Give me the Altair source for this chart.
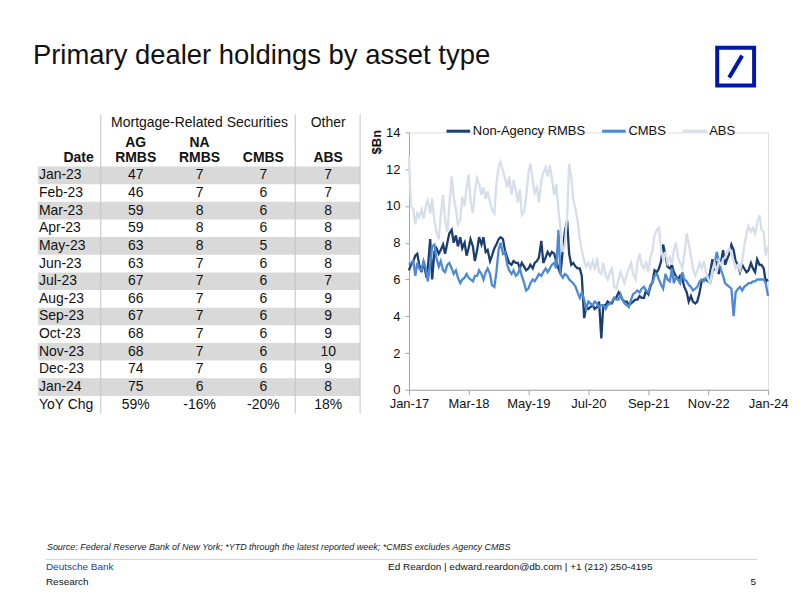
import altair as alt
import pandas as pd

FONT = "Liberation Sans"

# ---------------- text ----------------
TITLE = "Primary dealer holdings by asset type"
SOURCE = ("Source: Federal Reserve Bank of New York; *YTD through the latest reported week; "
          "*CMBS excludes Agency CMBS")
FOOT_BANK = "Deutsche Bank"
FOOT_RESEARCH = "Research"
FOOT_CONTACT = "Ed Reardon | edward.reardon@db.com | +1 (212) 250-4195"
PAGE_NO = "5"

# ---------------- table data ----------------
months = ["Jan-23", "Feb-23", "Mar-23", "Apr-23", "May-23", "Jun-23", "Jul-23",
          "Aug-23", "Sep-23", "Oct-23", "Nov-23", "Dec-23", "Jan-24"]
ag_rmbs = [47, 46, 59, 59, 63, 63, 67, 66, 67, 68, 68, 74, 75]
na_rmbs = [7, 7, 8, 8, 8, 7, 7, 7, 7, 7, 7, 7, 6]
cmbs_tbl = [7, 6, 6, 6, 5, 6, 6, 6, 6, 6, 6, 6, 6]
abs_tbl = [7, 7, 8, 8, 8, 8, 7, 9, 9, 9, 10, 9, 8]
yoy_label = "YoY Chg"
yoy = ["59%", "-16%", "-20%", "18%"]
group_headers = ["Mortgage-Related Securities", "Other"]
sub_headers_top = ["AG", "NA"]
sub_headers = ["Date", "RMBS", "RMBS", "CMBS", "ABS"]

# ---------------- line chart data (semi-monthly readings) ----------------
SERIES = ["Non-Agency RMBS", "CMBS", "ABS"]
COLORS = ["#1b3d70", "#4d8ad3", "#d5deea"]

na_line = [
    6.5, 6.8, 7.0, 7.3, 7.4, 6.8, 6.4, 7.0, 6.3, 6.6, 8.2, 6.0,
    7.5, 7.7, 7.4, 7.6, 7.9, 7.4, 8.0, 8.5, 8.7, 8.0, 8.4, 7.8,
    8.3, 7.7, 8.0, 7.3, 7.7, 8.2, 7.8, 7.0, 7.6, 8.3, 7.9, 8.3,
    7.5, 7.6, 7.0, 7.3, 7.7, 7.9, 8.2, 8.3, 8.2, 7.6, 7.2, 6.9,
    6.8, 7.0, 6.9, 6.9, 6.6, 6.9, 6.7, 6.5, 6.6, 6.8, 6.6, 6.9,
    7.0, 7.2, 8.1, 6.9, 7.2, 7.5, 7.3, 7.5, 7.4, 7.0, 6.6, 6.3,
    7.6, 8.6, 9.2, 7.4, 6.8, 6.9, 6.7, 6.6, 6.6, 6.2, 3.9, 4.5,
    4.4, 4.5, 4.6, 4.4, 4.5, 4.8, 2.8, 4.6, 4.6, 4.8, 4.7, 4.7,
    5.0, 5.0, 5.3, 5.1, 4.9, 4.8, 4.8, 4.6, 4.7, 4.8, 4.9, 4.9,
    5.1, 5.0, 5.0, 5.4, 5.2, 5.6, 5.9, 6.5, 6.4, 6.6, 7.0, 7.9,
    7.3, 6.7, 6.6, 6.8, 6.4, 6.2, 6.0, 6.2, 6.0, 5.6, 5.3, 4.8,
    5.1, 4.8, 4.7, 4.8, 5.3, 5.9, 6.0, 6.0, 5.9, 6.4, 7.1, 6.5,
    7.0, 6.3, 7.0, 7.6, 6.8, 7.1, 7.4, 7.9, 7.6, 7.0, 6.8, 6.4,
    6.8, 6.6, 6.4, 6.5, 6.9, 6.6, 6.4, 7.1, 6.8, 6.8, 6.6, 5.9,
    6.0,
]
cmbs_line = [
    6.8, 6.9, 7.0, 6.2, 6.9, 6.6, 6.5, 7.0, 6.6, 5.9, 6.8, 7.8,
    7.9, 7.2, 6.7, 7.0, 6.5, 6.4, 6.8, 6.9, 6.6, 6.3, 6.5, 6.1,
    5.8, 6.0, 6.1, 6.3, 6.1, 6.0, 5.9, 6.2, 6.2, 6.5, 6.3, 6.0,
    6.4, 6.6, 6.3, 5.7, 5.6, 6.4, 7.6, 8.0, 7.4, 7.5, 6.8, 6.5,
    6.3, 6.5, 6.2, 6.3, 6.6, 6.2, 5.8, 5.4, 5.5, 5.8, 6.0, 5.9,
    6.1, 6.3, 6.2, 6.4, 6.6, 6.4, 6.6, 6.8, 6.9, 6.6, 8.7, 6.3,
    6.1, 6.3, 6.2, 6.0, 5.9, 5.8, 5.6, 5.3, 5.0, 5.3, 4.9, 4.4,
    4.8, 4.7, 4.6, 4.8, 4.7, 4.5, 4.6, 4.6, 4.4, 4.6, 4.7, 4.8,
    5.0, 4.9, 4.9, 5.2, 4.9, 4.7, 4.6, 4.5, 4.9, 5.2, 5.3, 5.4,
    5.3, 5.5, 5.6, 5.4, 5.3, 5.7, 5.8, 6.2, 6.3, 6.0, 5.7, 5.5,
    6.3, 6.0, 5.9, 6.6, 5.8, 6.1, 6.0, 5.8, 6.4, 6.0, 5.9, 5.7,
    5.6, 5.4, 5.5, 5.6, 5.9, 6.0, 5.9, 6.1, 6.2, 5.8, 6.4, 6.8,
    7.5, 7.0, 6.5, 6.2, 5.8, 5.7, 5.6, 5.5, 4.0, 5.3, 5.5, 5.6,
    5.4, 5.6, 5.7, 5.8, 5.8, 5.9, 5.9, 6.0, 6.0, 6.0, 6.0, 5.8,
    5.1,
]
abs_line = [
    12.7, 10.0, 9.8, 9.0, 9.6, 9.4, 9.8, 9.3, 10.0, 10.3, 9.6, 10.4,
    9.2, 8.6, 8.2, 9.5, 10.6, 9.2, 8.6, 10.0, 11.6, 10.5, 9.8, 9.0,
    9.2, 10.5, 10.0, 11.0, 11.7, 10.3, 9.6, 10.8, 11.5, 11.2, 10.6, 11.0,
    10.4, 10.8, 10.2, 9.8, 9.6, 11.2, 12.1, 12.4, 11.9, 11.5, 11.0, 11.6,
    10.6, 11.4, 10.8, 10.2, 10.9, 9.5, 9.7, 10.5, 11.8, 12.3, 11.4, 10.7,
    11.0, 10.2, 11.4, 11.8, 12.1, 11.6, 12.2, 11.5, 10.6, 11.2, 9.8, 8.8,
    7.5, 7.8, 9.5, 12.3, 11.6, 10.4, 9.8, 9.2, 8.2, 7.6, 7.0, 6.7,
    6.9, 6.6, 7.0, 6.5, 7.2, 6.4, 6.3, 6.9, 6.2, 6.0, 6.4, 6.6,
    5.6, 5.5, 6.0, 6.4, 6.1, 5.8, 6.3, 6.6, 6.9, 6.3, 6.0, 6.9,
    7.4, 6.8, 6.6, 7.0, 6.4, 7.2, 7.6, 8.4, 8.7, 8.8, 7.6, 7.1,
    7.5, 6.9, 7.2, 6.8, 7.6, 8.0, 7.2, 6.9, 6.6, 7.4, 8.5, 7.9,
    7.3, 6.6, 6.2, 6.5, 6.9, 6.6, 7.0, 6.4, 6.0, 5.8, 6.5, 6.9,
    6.4, 7.0, 6.8, 7.1, 7.2, 7.5, 7.7, 7.4, 7.0, 6.6, 6.8, 6.5,
    7.0, 7.8, 8.5, 8.9, 8.6, 8.8, 8.5, 9.1, 9.5, 8.7, 8.6, 7.3,
    7.8,
]
x_tick_dates = [(2017, 1), (2018, 3), (2019, 5), (2020, 7), (2021, 9), (2022, 11), (2024, 1)]
y_ticks = [0, 2, 4, 6, 8, 10, 12, 14]

# All positions in the left panel are relative to the table/plot row origin
# (page x=8, y=131).

one = pd.DataFrame({"t": [TITLE]})
one_row = pd.DataFrame({"k": [0]})

# ================= slide background (defines overall bounds) =================
bg = alt.Chart(one_row).mark_rect(fill="white").encode(
    x=alt.value(0), x2=alt.value(786), y=alt.value(-123), y2=alt.value(464))

# ================= title + logo =================
title_mark = alt.Chart(one).mark_text(
    align="left", baseline="alphabetic", font=FONT, fontSize=27.5, color="#111"
).encode(x=alt.value(24), y=alt.value(-69), text="t:N")
logo_box = alt.Chart(one_row).mark_rect(fill="white", stroke="#0018a8", strokeWidth=4).encode(
    x=alt.value(710), x2=alt.value(747), y=alt.value(-85), y2=alt.value(-47))
logo_slash = alt.Chart(one_row).mark_rule(stroke="#0018a8", strokeWidth=4).encode(
    x=alt.value(735), y=alt.value(-77), x2=alt.value(722), y2=alt.value(-55))

# ================= table =================
cells = []
for i, m in enumerate(months):
    cells.append({"row": i, "col": 0, "text": m})
    cells.append({"row": i, "col": 1, "text": str(ag_rmbs[i])})
    cells.append({"row": i, "col": 2, "text": str(na_rmbs[i])})
    cells.append({"row": i, "col": 3, "text": str(cmbs_tbl[i])})
    cells.append({"row": i, "col": 4, "text": str(abs_tbl[i])})
n = len(months)
cells.append({"row": n, "col": 0, "text": yoy_label})
for j, v in enumerate(yoy):
    cells.append({"row": n, "col": j + 1, "text": v})
cells_df = pd.DataFrame(cells)

xs = alt.Scale(domain=[0, 1, 2, 3, 4], range=[30, 127, 191, 255, 320])
ys = alt.Scale(domain=[0, n], range=[43, 273])
TX = alt.X("col:Q", scale=xs, axis=None)
TY = alt.Y("row:Q", scale=ys, axis=None)

shade = alt.Chart(pd.DataFrame({"row": list(range(n))})).transform_filter(
    "datum.row % 2 == 0"
).transform_calculate(r0="datum.row - 0.5", r1="datum.row + 0.5").mark_rect(
    color="#d9d9d9"
).encode(x=alt.value(29), x2=alt.value(352),
        y=alt.Y("r0:Q", scale=ys, axis=None), y2="r1:Q")

date_txt = alt.Chart(cells_df).transform_filter("datum.col == 0").mark_text(
    align="left", baseline="middle", font=FONT, fontSize=14, color="#111"
).encode(x=TX, y=TY, text="text:N")
val_txt = alt.Chart(cells_df).transform_filter("datum.col > 0").mark_text(
    align="center", baseline="middle", font=FONT, fontSize=14, color="#111"
).encode(x=TX, y=TY, text="text:N")

gh_df = pd.DataFrame({"col": [2, 4], "text": group_headers})
gh = alt.Chart(gh_df).mark_text(baseline="middle", font=FONT, fontSize=14, color="#111").encode(
    x=TX, y=alt.value(-9), text="text:N")
sh1_df = pd.DataFrame({"col": [1, 2], "text": sub_headers_top})
sh1 = alt.Chart(sh1_df).mark_text(baseline="middle", font=FONT, fontSize=14,
                                  fontWeight="bold", color="#111").encode(
    x=TX, y=alt.value(11), text="text:N")
sh2_df = pd.DataFrame({"col": [0, 1, 2, 3, 4], "text": sub_headers})
sh2_date = alt.Chart(sh2_df).transform_filter("datum.col == 0").mark_text(
    baseline="middle", align="right", dx=55, font=FONT, fontSize=14,
    fontWeight="bold", color="#111").encode(x=TX, y=alt.value(26), text="text:N")
sh2 = alt.Chart(sh2_df).transform_filter("datum.col > 0").mark_text(
    baseline="middle", font=FONT, fontSize=14, fontWeight="bold", color="#111").encode(
    x=TX, y=alt.value(26), text="text:N")


def vline(px):
    return alt.Chart(one_row).mark_rule(color="#c4c4c4", strokeWidth=1).encode(
        x=alt.value(px), y=alt.value(-18), y2=alt.value(282))


# ================= footer =================
src = alt.Chart(one_row).mark_text(align="left", baseline="middle", font=FONT, fontSize=9,
                                   fontStyle="italic", color="#222").encode(
    x=alt.value(38), y=alt.value(416), text=alt.value(SOURCE))
sep = alt.Chart(one_row).mark_rule(color="#d0d0d0", strokeWidth=1).encode(
    x=alt.value(37), x2=alt.value(750), y=alt.value(428))
bank = alt.Chart(one_row).mark_text(align="left", baseline="middle", font=FONT, fontSize=10,
                                    color="#1f3a9e").encode(
    x=alt.value(37), y=alt.value(436), text=alt.value(FOOT_BANK))
research = alt.Chart(one_row).mark_text(align="left", baseline="middle", font=FONT, fontSize=10,
                                        color="#111").encode(
    x=alt.value(37), y=alt.value(451), text=alt.value(FOOT_RESEARCH))
contact = alt.Chart(one_row).mark_text(align="left", baseline="middle", font=FONT, fontSize=10,
                                       color="#111").encode(
    x=alt.value(380), y=alt.value(436), text=alt.value(FOOT_CONTACT))
page = alt.Chart(one_row).mark_text(align="right", baseline="middle", font=FONT, fontSize=10,
                                    color="#111").encode(
    x=alt.value(749), y=alt.value(451), text=alt.value(PAGE_NO))

left = alt.layer(bg, title_mark, logo_box, logo_slash,
                 shade, vline(92), vline(287), vline(352), date_txt, val_txt,
                 gh, sh1, sh2_date, sh2,
                 src, sep, bank, research, contact, page).properties(width=401, height=258)

# ================= line chart =================
dates = pd.date_range("2017-01-01", "2024-01-01", freq="SMS")
frames = []
for name, vals in zip(SERIES, [na_line, cmbs_line, abs_line]):
    assert len(vals) == len(dates), (name, len(vals), len(dates))
    frames.append(pd.DataFrame({"date": dates, "series": name, "value": vals}))
line_df = pd.concat(frames, ignore_index=True)

xscale = alt.Scale(domain=[alt.DateTime(year=2017, month=1, date=1),
                           alt.DateTime(year=2024, month=1, date=1)], nice=False)
yscale = alt.Scale(domain=[0, 14], nice=False)
xaxis = alt.Axis(values=[alt.DateTime(year=y, month=m, date=1) for y, m in x_tick_dates],
                 format="%b-%y", labelFlush=False, labelOverlap=False, grid=False,
                 domainColor="#a6a6a6", tickColor="#a6a6a6", tickSize=5,
                 labelFont=FONT, labelFontSize=13, labelColor="#111", labelPadding=3)
yaxis = alt.Axis(values=y_ticks, grid=False, domainColor="#a6a6a6", tickColor="#a6a6a6",
                 tickSize=4, labelFont=FONT, labelFontSize=13, labelColor="#111",
                 labelPadding=5, titleFont=FONT, titleFontSize=13, titleFontWeight="bold",
                 titleColor="#111", titleAngle=270, titleAlign="right",
                 titleBaseline="middle", titleX=-33, titleY=-3)
cscale = alt.Scale(domain=SERIES, range=COLORS)
legend = alt.Legend(title=None, orient="none", legendX=36, legendY=-15, direction="horizontal",
                    symbolType="stroke", symbolStrokeWidth=3, symbolSize=560,
                    labelFont=FONT, labelFontSize=13, labelColor="#111",
                    columnPadding=10, labelOffset=1)

layers = []
for name in SERIES:
    layers.append(
        alt.Chart(line_df).transform_filter(alt.datum.series == name)
        .mark_line(strokeWidth=2.3)
        .encode(x=alt.X("date:T", scale=xscale, axis=xaxis, title=None),
                y=alt.Y("value:Q", scale=yscale, axis=yaxis, title="$Bn"),
                color=alt.Color("series:N", scale=cscale, legend=legend))
    )
line = alt.layer(*layers).properties(width=360, height=258)

chart = alt.hconcat(left, line, spacing=0, bounds="flush").resolve_scale(
    color="independent"
).properties(padding=0).configure_view(strokeWidth=0).configure(background="white")

chart.save("out.html", embed_options={"renderer": "svg", "actions": False})
